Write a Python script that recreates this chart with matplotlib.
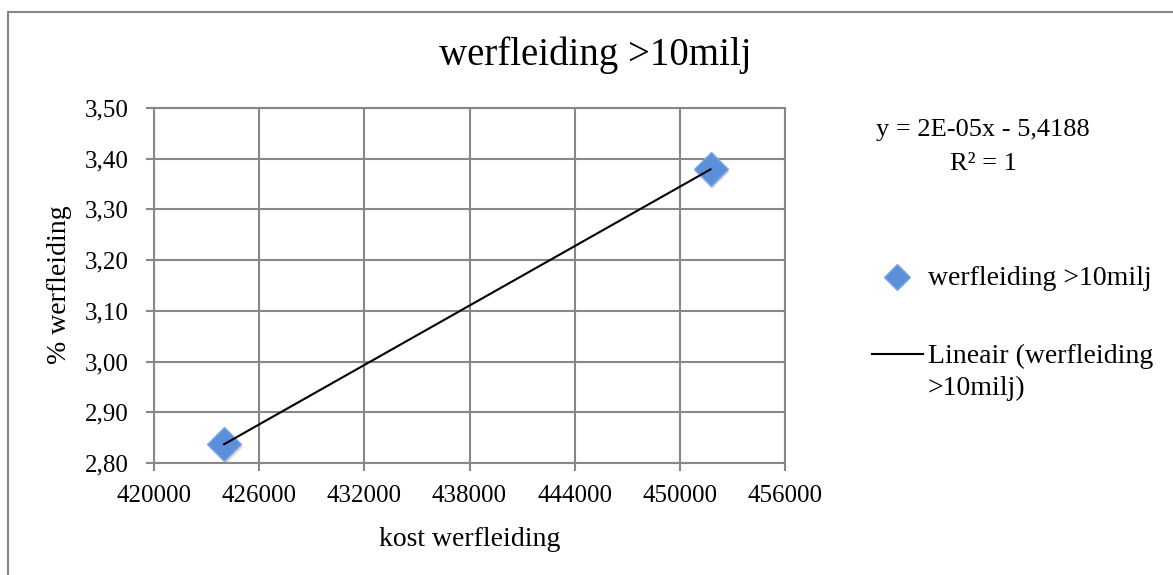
import numpy as np
import matplotlib
matplotlib.use("Agg")
import matplotlib.pyplot as plt
from matplotlib.lines import Line2D
from matplotlib.patches import Rectangle
from matplotlib import transforms

# ---- data ----
kost = [424000, 451750]
pct = [2.837, 3.379]
series_name = "werfleiding >10milj"
x_ticks = [420000, 426000, 432000, 438000, 444000, 450000, 456000]
x_tick_labels = ["420000", "426000", "432000", "438000", "444000", "450000", "456000"]
y_ticks = [2.80, 2.90, 3.00, 3.10, 3.20, 3.30, 3.40, 3.50]
y_tick_labels = ["2,80", "2,90", "3,00", "3,10", "3,20", "3,30", "3,40", "3,50"]
equation = "y = 2E-05x - 5,4188"
r2_text = "R² = 1"

W, H = 1173, 575
plt.rcParams['font.family'] = ['Liberation Serif', 'DejaVu Serif']
fig = plt.figure(figsize=(W / 100, H / 100), dpi=100)

def fx(px):
    return px / W

def fy(py):
    return 1 - py / H

grey = "#878787"
left, right, top, bottom = 154, 785, 108, 463
ax = fig.add_axes([fx(left), fy(bottom), fx(right) - fx(left), (bottom - top) / H])
ax.set_xlim(x_ticks[0], x_ticks[-1])
ax.set_ylim(y_ticks[0], y_ticks[-1])
ax.set_xticks(x_ticks, x_tick_labels)
ax.set_yticks(y_ticks, y_tick_labels)
ax.grid(True, color=grey, linewidth=1.5)
ax.set_axisbelow(True)
for s in ax.spines.values():
    s.set_color(grey)
    s.set_linewidth(1.5)
ax.tick_params(axis='both', colors=grey, length=6, width=1.5, labelsize=18,
               labelcolor='black', direction='out')
ax.tick_params(axis='x', pad=10)
ax.tick_params(axis='y', pad=12)

# trendline (linear fit of the data)
coef = np.polyfit(kost, pct, 1)
xt = np.array([min(kost), max(kost)])
ax.plot(xt, np.polyval(coef, xt), color='black', linewidth=1.5, zorder=3)

# shadow + markers
shadow = transforms.offset_copy(ax.transData, fig=fig, x=1.5, y=-2.5, units='dots')
ax.plot(kost, pct, linestyle='none', marker='D', markersize=17, color='#9a9a9a',
        alpha=0.35, markeredgewidth=0, transform=shadow, zorder=2)
ax.plot(kost, pct, linestyle='none', marker='D', markersize=17,
        markerfacecolor='#5b8fdb', markeredgecolor='#7ea6e3', markeredgewidth=1, zorder=2.5)

# axis titles
fig.text(fx(470), fy(539), "kost werfleiding", ha='center', va='center', fontsize=20)
fig.text(fx(60), fy(285), "% werfleiding", ha='center', va='center', fontsize=20,
         rotation=90)

# title
fig.text(fx(595), fy(65), series_name, ha='center', va='baseline', fontsize=28)

# trendline equation
fig.text(fx(983), fy(136), equation, ha='center', va='baseline', fontsize=19)
fig.text(fx(983), fy(170), r2_text, ha='center', va='baseline', fontsize=19)

# legend (manual)
fig.add_artist(Line2D([fx(897)], [fy(277)], marker='D', markersize=13,
                      markerfacecolor='#5b8fdb', markeredgecolor='#7ea6e3', linestyle='none'))
fig.text(fx(928), fy(285), series_name, ha='left', va='baseline', fontsize=20)
fig.add_artist(Line2D([fx(872), fx(923)], [fy(354), fy(354)], color='black', linewidth=1.5))
fig.text(fx(928), fy(363), "Lineair (werfleiding", ha='left', va='baseline', fontsize=20)
fig.text(fx(928), fy(395), ">10milj)", ha='left', va='baseline', fontsize=20)

# chart area border
fig.add_artist(Rectangle((fx(7.5), -0.1), 1.2, fy(11.5) + 0.1, fill=False,
                         edgecolor=grey, linewidth=1.5, transform=fig.transFigure))

fig.savefig("out.png", dpi=100)
